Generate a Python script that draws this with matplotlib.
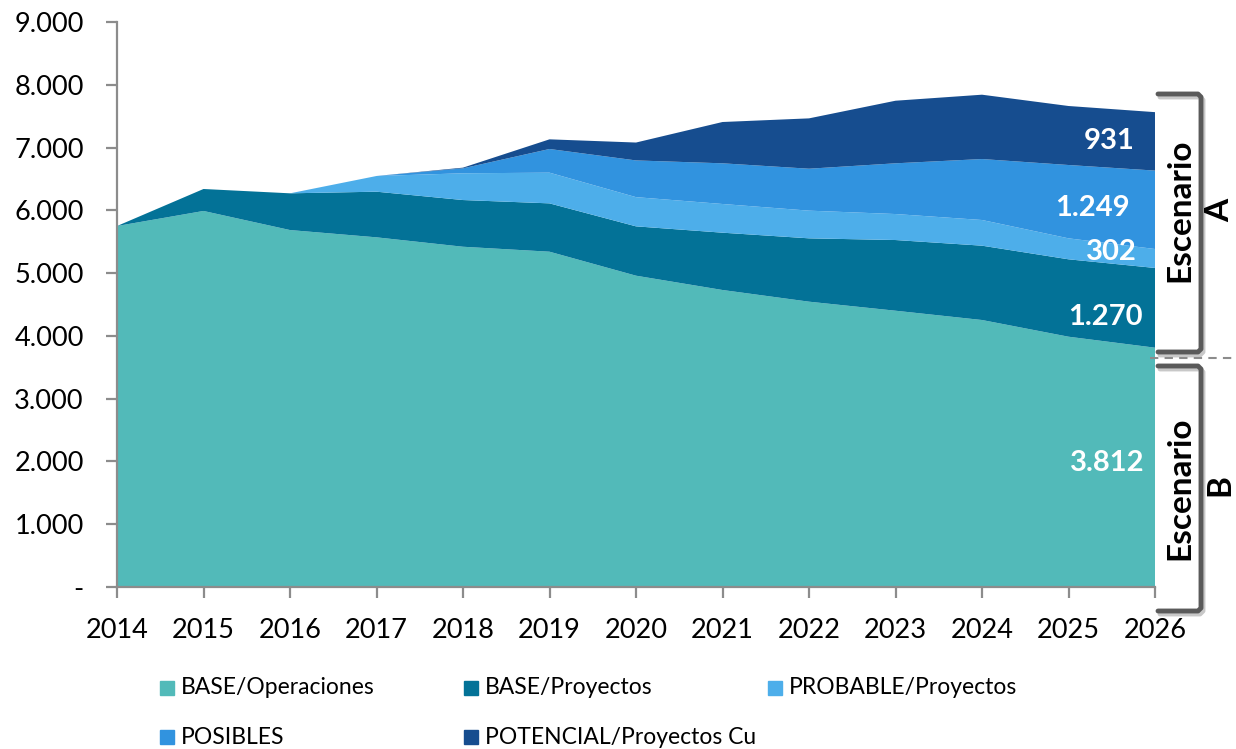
import matplotlib
matplotlib.use("Agg")
import matplotlib.pyplot as plt
from matplotlib.lines import Line2D
from matplotlib.patches import Rectangle
from matplotlib.ticker import FuncFormatter

plt.rcParams['font.family'] = ['Lato', 'DejaVu Sans']

years = list(range(2014, 2027))
base_operaciones = [5750, 5990, 5686, 5570, 5420, 5341, 4959, 4731, 4545, 4401, 4253, 3987, 3812]
base_proyectos = [0, 350, 585, 727, 744, 770, 786, 913, 1009, 1126, 1184, 1233, 1270]
probable_proyectos = [0, 0, 0, 250, 426, 489, 465, 457, 441, 414, 409, 334, 302]
posibles = [0, 0, 0, 0, 79, 377, 585, 648, 668, 808, 971, 1168, 1249]
potencial_cu = [0, 0, 0, 0, 11, 154, 285, 658, 802, 997, 1025, 940, 931]

series_names = ['BASE/Operaciones', 'BASE/Proyectos', 'PROBABLE/Proyectos',
                'POSIBLES', 'POTENCIAL/Proyectos Cu']
colors = ['#52BAB9', '#037297', '#4DAEEA', '#3193DF', '#164D8F']

# etiquetas del ultimo año
end_labels = ['3.812', '1.270', '302', '1.249', '931']
end_label_y = [1980, 4300, 5330, 6030, 7100]
end_label_x = [2025.88, 2025.86, 2025.79, 2025.71, 2025.77]

W, H = 1236, 749
fig = plt.figure(figsize=(W / 100, H / 100), dpi=100)
ax = fig.add_axes([117 / W, 1 - 587 / H, (1155 - 117) / W, (587 - 22) / H])

ax.stackplot(years, base_operaciones, base_proyectos, probable_proyectos,
             posibles, potencial_cu, colors=colors, linewidth=0)

ax.set_xlim(2014, 2026)
ax.set_ylim(0, 9000)
ax.set_xticks(years)
ax.set_yticks(range(0, 9001, 1000))
ax.yaxis.set_major_formatter(FuncFormatter(
    lambda v, p: '-' if v == 0 else '{:,.0f}'.format(v).replace(',', '.')))

for s in ['top', 'right']:
    ax.spines[s].set_visible(False)
for s in ['left', 'bottom']:
    ax.spines[s].set_color('#8C8C8C')
    ax.spines[s].set_linewidth(1.6)
ax.tick_params(axis='both', colors='#8C8C8C', width=1.6, length=8, labelcolor='black',
               labelsize=19.5)
ax.tick_params(axis='x', pad=14)
ax.tick_params(axis='y', pad=16)

for txt, xv, yv in zip(end_labels, end_label_x, end_label_y):
    ax.text(xv, yv, txt, color='white', fontsize=21, fontweight='bold',
            ha='right', va='center')

# corchetes de escenarios
def bracket(y0, y1):
    x0, x1 = 1158, 1201
    xs = [x0, x1 - 3, x1, x1, x1 - 3, x0]
    ys = [y0, y0, y0 + 3, y1 - 3, y1, y1]
    fx = [x / W for x in xs]
    fy_sh = [1 - (y + 3) / H for y in ys]
    fx_sh = [(x + 2) / W for x in xs]
    fig.add_artist(Line2D(fx_sh, fy_sh, color='#C8C8C8', lw=3.5,
                          solid_joinstyle='round', solid_capstyle='round'))
    fig.add_artist(Line2D(fx, [1 - y / H for y in ys], color='#5A5A5A', lw=3.5,
                          solid_joinstyle='round', solid_capstyle='round'))

bracket(94, 352)
bracket(366, 611)
fig.add_artist(Line2D([1150 / W, 1236 / W], [1 - 358 / H] * 2, color='#8C8C8C',
                      lw=1.5, ls=(0, (4, 3))))

fig.text(1180 / W, 1 - 210 / H, 'Escenario', rotation=90, fontsize=24,
         fontweight='bold', ha='center', va='center')
fig.text(1220 / W, 1 - 210 / H, 'A', rotation=90, fontsize=24,
         fontweight='bold', ha='center', va='center')
fig.text(1180 / W, 1 - 488 / H, 'Escenario', rotation=90, fontsize=24,
         fontweight='bold', ha='center', va='center')
fig.text(1220 / W, 1 - 485 / H, 'B', rotation=90, fontsize=24,
         fontweight='bold', ha='center', va='center')

# leyenda
for i, (name, c) in enumerate(zip(series_names, colors)):
    col, row = i % 3, i // 3
    x = 160 + col * 304
    y = 688 + row * 49
    fig.add_artist(Rectangle((x / W, 1 - (y + 7) / H), 14 / W, 14 / H,
                             transform=fig.transFigure, color=c))
    fig.text((x + 21) / W, 1 - y / H, name, fontsize=16.5, ha='left', va='center')

fig.savefig('out.png', dpi=100)
